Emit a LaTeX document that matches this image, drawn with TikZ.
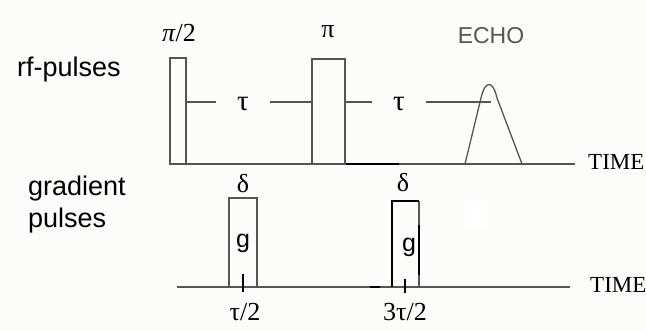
\documentclass[tikz,border=0pt]{standalone}
\usepackage{fontspec}
\setmainfont{Liberation Serif}
\newfontfamily\arialfont{Liberation Sans}
\usetikzlibrary{positioning}

\definecolor{paper}{HTML}{FCFCFA}
\definecolor{trace}{HTML}{555555}

\begin{document}
\begin{tikzpicture}[
    x=1pt, y=-1pt,
    line/.style={draw=trace, line width=1.3pt},
    heavy/.style={draw=black, line width=2pt},
    sans/.style={inner sep=0pt, font=\arialfont\fontsize{27}{32}\selectfont, align=left},
    greek/.style={inner sep=0pt, font=\fontsize{26}{28}\selectfont},
    timelbl/.style={inner sep=0pt, anchor=base west, font=\fontsize{23}{26}\selectfont},
    gap/.style={inner sep=0pt, minimum width=54pt, font=\fontsize{29}{30}\selectfont}
]
\fill[paper] (0,0) rectangle (646,331);
\useasboundingbox (0,0) rectangle (646,331);
\fill[white] (465,202) rectangle (487,228);

% row labels
\node[sans, anchor=base west] (rf) at (17,77) {rf-pulses};
\node[sans, anchor=base west] (grad) at (28,228) {gradient\\pulses};

% rf line
\coordinate (rf0) at (170,164);
\coordinate (rf1) at (575,164);
\node[timelbl] (time1) at (588,170) {TIME};
\draw[line] (rf0) -- (rf1);
\draw[heavy] (325,164) -- (399,164);

% 90 and 180 pulses
\draw[line] (170,164) rectangle (186,58);
\coordinate (p90) at (186,102);
\node[greek, anchor=base] (l90) at (179,42) {\textit{π}/2};
\draw[line] (312,164) rectangle (345,59);
\coordinate (p180l) at (312,102);
\coordinate (p180r) at (345,102);
\node[greek, anchor=base] (l180) at (328,38) {π};

% delays
\node[gap, anchor=base] (tauA) at (243,111) {τ};
\node[gap, anchor=base] (tauB) at (399,111) {τ};
\coordinate (echotop) at (491,102);
\draw[line] (p90) -- (p90 -| tauA.west);
\draw[line] (p180l -| tauA.east) -- (p180l);
\draw[line] (p180r) -- (p180r -| tauB.west);
\draw[line] (echotop -| tauB.east) -- (echotop);

% echo
\draw[line] (465,164) -- (481,98) .. controls (485,80) and (493,80) .. (497,98) -- (522,164);
\node[sans, anchor=base, text=trace, font=\arialfont\fontsize{23}{26}\selectfont] (echo) at (491,44) {ECHO};

% gradient line
\coordinate (g0) at (177,287);
\coordinate (g1) at (570,287);
\node[timelbl] (time2) at (590,293) {TIME};
\draw[line] (g0) -- (g1);
\draw[heavy] (370,287) -- (380,287);

% first gradient pulse
\draw[line] (229,287) rectangle (257,198);
\node[greek, anchor=base] (d1) at (243,193) {δ};
\node[sans, anchor=base, font=\arialfont\fontsize{25}{26}\selectfont] (gA) at (243,248) {g};
\draw[heavy] (243,274) -- (243,292);
\node[greek, anchor=base] (t1) at (245,321) {τ/2};

% second gradient pulse
\draw[line] (419,201) -- (419,287);
\draw[heavy] (392,287) -- (392,201) -- (419,201);
\draw[heavy] (419,225) -- (419,275);
\node[greek, anchor=base] (d2) at (403,192) {δ};
\node[sans, anchor=base, font=\arialfont\fontsize{25}{26}\selectfont] (gB) at (409,252) {g};
\draw[heavy] (405,279) -- (405,293);
\node[greek, anchor=base] (t2) at (405,321) {3τ/2};
\end{tikzpicture}
\end{document}
